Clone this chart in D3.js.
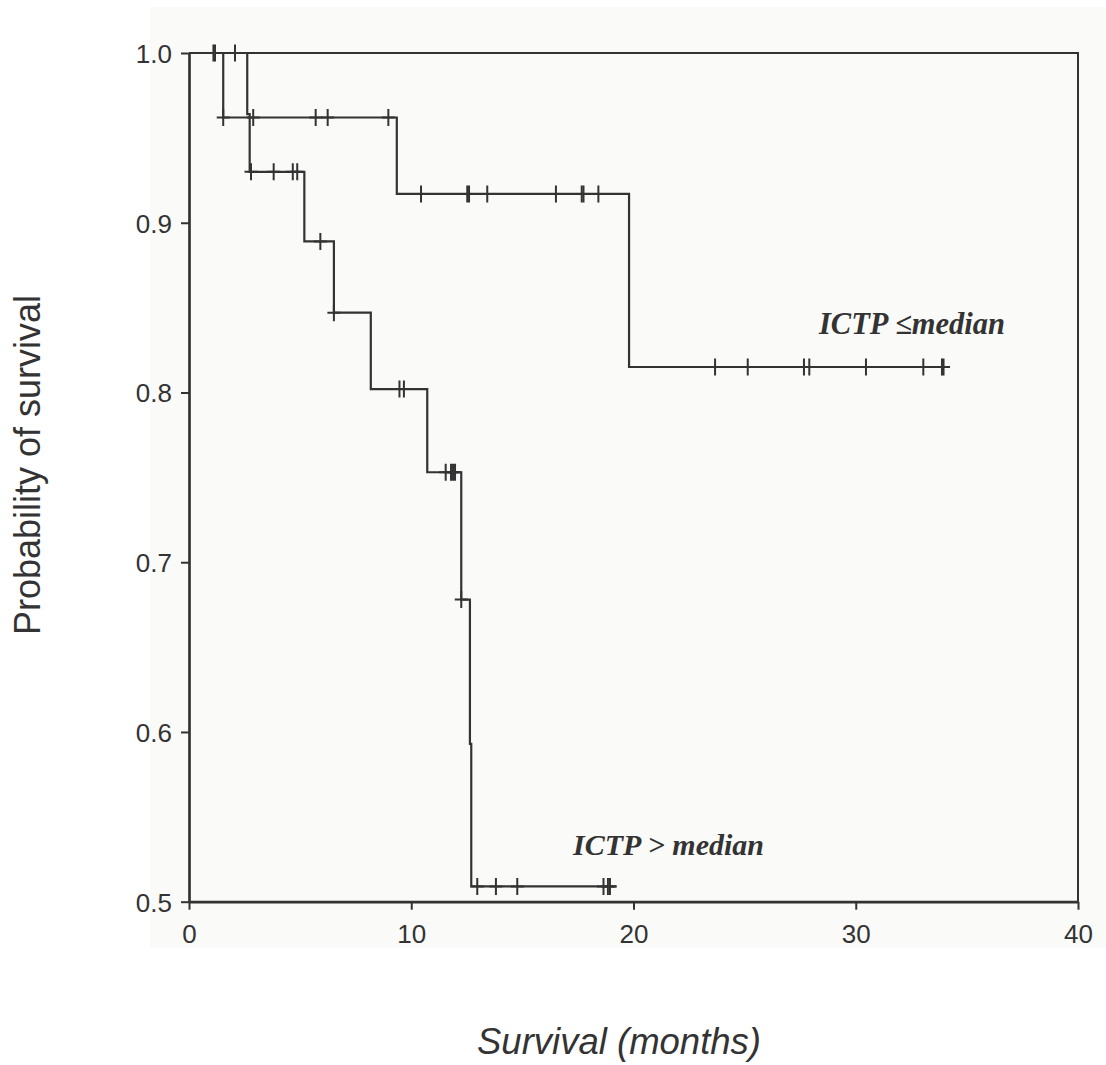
<!DOCTYPE html>
<html>
<head>
<meta charset="utf-8">
<script src="https://cdn.jsdelivr.net/npm/d3@7"></script>
<style>
  html, body { margin: 0; padding: 0; background: #ffffff; }
  svg { display: block; }
</style>
</head>
<body>
<svg id="chart" width="1106" height="1065"></svg>
<script>
// ---- Data ----
const xTicks = [0, 10, 20, 30, 40];
const yTicks = [0.5, 0.6, 0.7, 0.8, 0.9, 1.0];

// ICTP <= median : step times and survival after each step
const lowMedTimes = [0, 1.54, 9.35, 19.80];
const lowMedSurv  = [1.0, 0.962, 0.917, 0.815];
const lowMedEnd   = 34.2;
const lowMedCensor = [1.10, 1.54, 2.89, 5.70, 6.24, 8.97, 10.44, 12.52, 12.60, 13.42,
                      16.51, 17.67, 17.75, 18.42, 23.67, 25.14, 27.67, 27.91, 30.46,
                      33.04, 33.88, 33.95];

// ICTP > median
const highMedTimes = [0, 2.62, 2.73, 5.19, 6.52, 8.18, 10.72, 12.25, 12.64, 12.70];
const highMedSurv  = [1.0, 0.964, 0.930, 0.889, 0.847, 0.802, 0.753, 0.678, 0.593, 0.509];
const highMedEnd   = 19.24;
const highMedCensor = [1.17, 2.07, 2.79, 3.81, 4.67, 4.87, 5.91, 6.52, 9.47, 9.67,
                       11.55, 11.79, 11.88, 11.97, 12.25, 12.97, 13.81, 14.77,
                       18.65, 18.85, 18.94];

const labelLow  = "ICTP \u2264median";
const labelHigh = "ICTP > median";
const yTitle = "Probability of survival";
const xTitle = "Survival (months)";

// ---- Drawing ----
const svg = d3.select("#chart");
const ink = "#333333";

svg.append("rect")
  .attr("x", 150).attr("y", 7).attr("width", 956).attr("height", 941)
  .attr("fill", "#fafaf8");

const x = d3.scaleLinear().domain([0, 40]).range([189, 1078]);
const y = d3.scaleLinear().domain([0.5, 1.0]).range([901.7, 53]);

// frame (top and right)
svg.append("path")
  .attr("d", `M${x(0)},${y(1)}H${x(40)}V${y(0.5)}`)
  .attr("fill", "none").attr("stroke", ink).attr("stroke-width", 2);

// axes
const xAxis = svg.append("g")
  .attr("transform", `translate(0,${y(0.5)})`)
  .call(d3.axisBottom(x).tickValues(xTicks).tickSize(8).tickSizeOuter(0).tickPadding(15).tickFormat(d3.format("d")));
const yAxis = svg.append("g")
  .attr("transform", `translate(${x(0)},0)`)
  .call(d3.axisLeft(y).tickValues(yTicks).tickSize(8).tickSizeOuter(0).tickPadding(9).tickFormat(d3.format(".1f")));

[xAxis, yAxis].forEach(g => {
  g.select(".domain").attr("stroke", ink).attr("stroke-width", 2.7);
  g.selectAll(".tick line").attr("stroke", ink).attr("stroke-width", 2);
  g.selectAll(".tick text")
    .attr("fill", ink)
    .style("font-family", "'Liberation Sans', Arial, sans-serif")
    .style("font-size", "26px");
});
yAxis.selectAll(".tick text").attr("dy", "0.36em");

// step curves
function stepPath(times, surv, end) {
  const pts = times.map((t, i) => [t, surv[i]]);
  pts.push([end, surv[surv.length - 1]]);
  return d3.line().x(d => x(d[0])).y(d => y(d[1])).curve(d3.curveStepAfter)(pts);
}
function survAt(times, surv, t) {
  let s = surv[0];
  for (let i = 0; i < times.length; i++) if (times[i] <= t) s = surv[i];
  return s;
}

const curves = [
  { times: lowMedTimes, surv: lowMedSurv, end: lowMedEnd, cens: lowMedCensor },
  { times: highMedTimes, surv: highMedSurv, end: highMedEnd, cens: highMedCensor }
];

curves.forEach(c => {
  svg.append("path")
    .attr("d", stepPath(c.times, c.surv, c.end))
    .attr("fill", "none").attr("stroke", ink).attr("stroke-width", 2.2);
  const g = svg.append("g");
  c.cens.forEach(t => {
    const cx = x(t), cy = y(survAt(c.times, c.surv, t));
    g.append("path")
      .attr("d", `M${cx},${cy - 8.5}V${cy + 8.5}M${cx - 6.5},${cy}H${cx + 6.5}`)
      .attr("stroke", ink).attr("stroke-width", 2).attr("fill", "none");
  });
});

// curve labels
const serif = "'Liberation Serif', 'Times New Roman', serif";
svg.append("text")
  .attr("x", 819).attr("y", 334)
  .attr("fill", ink)
  .style("font-family", serif).style("font-size", "30.5px")
  .style("font-weight", "bold").style("font-style", "italic")
  .text(labelLow);
svg.append("text")
  .attr("x", 573).attr("y", 855)
  .attr("fill", ink)
  .style("font-family", serif).style("font-size", "30px")
  .style("font-weight", "bold").style("font-style", "italic")
  .text(labelHigh);

// axis titles
svg.append("text")
  .attr("transform", "translate(40,465) rotate(-90)")
  .attr("text-anchor", "middle")
  .attr("fill", ink)
  .style("font-family", "'Liberation Sans', Arial, sans-serif")
  .style("font-size", "36px")
  .text(yTitle);
svg.append("text")
  .attr("x", 619).attr("y", 1054)
  .attr("text-anchor", "middle")
  .attr("fill", ink)
  .style("font-family", "'Liberation Sans', Arial, sans-serif")
  .style("font-size", "36.5px").style("font-style", "italic")
  .text(xTitle);
</script>
</body>
</html>
